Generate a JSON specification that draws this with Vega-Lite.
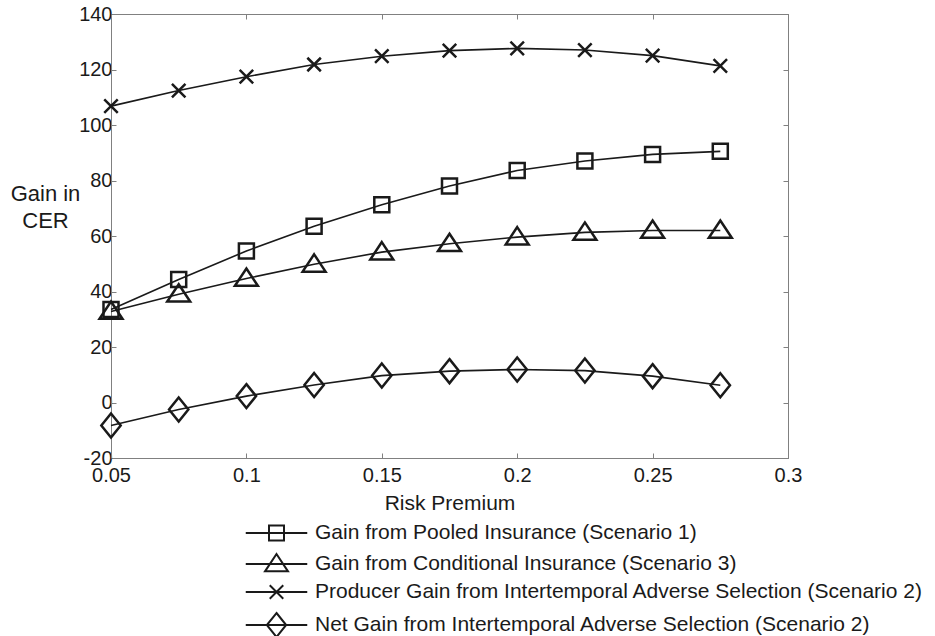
{
  "$schema": "https://vega.github.io/schema/vega-lite/v6.json",
  "autosize": "none",
  "width": 677,
  "height": 444,
  "padding": {"left": 111, "top": 14, "right": 147, "bottom": 178},
  "background": "white",
  "config": {
    "locale": {"number": {"decimal": ".", "thousands": ",", "grouping": [3], "currency": ["$", ""], "minus": "-"}},
    "view": {"stroke": "#808080", "strokeWidth": 1},
    "font": "Liberation Sans",
    "axis": {
      "domainColor": "#808080",
      "tickColor": "#808080",
      "labelColor": "#1a1a1a",
      "titleColor": "#1a1a1a",
      "labelFont": "Liberation Sans",
      "titleFont": "Liberation Sans",
      "grid": false
    }
  },
  "data": {
    "values": [
      {"x": 0.05, "y": 33.5, "s": "Gain from Pooled Insurance (Scenario 1)"},
      {"x": 0.075, "y": 44.3, "s": "Gain from Pooled Insurance (Scenario 1)"},
      {"x": 0.1, "y": 54.6, "s": "Gain from Pooled Insurance (Scenario 1)"},
      {"x": 0.125, "y": 63.5, "s": "Gain from Pooled Insurance (Scenario 1)"},
      {"x": 0.15, "y": 71.3, "s": "Gain from Pooled Insurance (Scenario 1)"},
      {"x": 0.175, "y": 78.0, "s": "Gain from Pooled Insurance (Scenario 1)"},
      {"x": 0.2, "y": 83.6, "s": "Gain from Pooled Insurance (Scenario 1)"},
      {"x": 0.225, "y": 87.0, "s": "Gain from Pooled Insurance (Scenario 1)"},
      {"x": 0.25, "y": 89.4, "s": "Gain from Pooled Insurance (Scenario 1)"},
      {"x": 0.275, "y": 90.5, "s": "Gain from Pooled Insurance (Scenario 1)"},
      {"x": 0.05, "y": 32.8, "s": "Gain from Conditional Insurance (Scenario 3)"},
      {"x": 0.075, "y": 39.0, "s": "Gain from Conditional Insurance (Scenario 3)"},
      {"x": 0.1, "y": 44.7, "s": "Gain from Conditional Insurance (Scenario 3)"},
      {"x": 0.125, "y": 49.8, "s": "Gain from Conditional Insurance (Scenario 3)"},
      {"x": 0.15, "y": 54.2, "s": "Gain from Conditional Insurance (Scenario 3)"},
      {"x": 0.175, "y": 57.2, "s": "Gain from Conditional Insurance (Scenario 3)"},
      {"x": 0.2, "y": 59.6, "s": "Gain from Conditional Insurance (Scenario 3)"},
      {"x": 0.225, "y": 61.3, "s": "Gain from Conditional Insurance (Scenario 3)"},
      {"x": 0.25, "y": 62.0, "s": "Gain from Conditional Insurance (Scenario 3)"},
      {"x": 0.275, "y": 62.0, "s": "Gain from Conditional Insurance (Scenario 3)"},
      {"x": 0.05, "y": 106.8, "s": "Producer Gain from Intertemporal Adverse Selection (Scenario 2)"},
      {"x": 0.075, "y": 112.4, "s": "Producer Gain from Intertemporal Adverse Selection (Scenario 2)"},
      {"x": 0.1, "y": 117.4, "s": "Producer Gain from Intertemporal Adverse Selection (Scenario 2)"},
      {"x": 0.125, "y": 121.8, "s": "Producer Gain from Intertemporal Adverse Selection (Scenario 2)"},
      {"x": 0.15, "y": 124.8, "s": "Producer Gain from Intertemporal Adverse Selection (Scenario 2)"},
      {"x": 0.175, "y": 126.8, "s": "Producer Gain from Intertemporal Adverse Selection (Scenario 2)"},
      {"x": 0.2, "y": 127.6, "s": "Producer Gain from Intertemporal Adverse Selection (Scenario 2)"},
      {"x": 0.225, "y": 127.0, "s": "Producer Gain from Intertemporal Adverse Selection (Scenario 2)"},
      {"x": 0.25, "y": 125.0, "s": "Producer Gain from Intertemporal Adverse Selection (Scenario 2)"},
      {"x": 0.275, "y": 121.3, "s": "Producer Gain from Intertemporal Adverse Selection (Scenario 2)"},
      {"x": 0.05, "y": -8.3, "s": "Net Gain from Intertemporal Adverse Selection (Scenario 2)"},
      {"x": 0.075, "y": -2.5, "s": "Net Gain from Intertemporal Adverse Selection (Scenario 2)"},
      {"x": 0.1, "y": 2.3, "s": "Net Gain from Intertemporal Adverse Selection (Scenario 2)"},
      {"x": 0.125, "y": 6.3, "s": "Net Gain from Intertemporal Adverse Selection (Scenario 2)"},
      {"x": 0.15, "y": 9.7, "s": "Net Gain from Intertemporal Adverse Selection (Scenario 2)"},
      {"x": 0.175, "y": 11.3, "s": "Net Gain from Intertemporal Adverse Selection (Scenario 2)"},
      {"x": 0.2, "y": 11.9, "s": "Net Gain from Intertemporal Adverse Selection (Scenario 2)"},
      {"x": 0.225, "y": 11.5, "s": "Net Gain from Intertemporal Adverse Selection (Scenario 2)"},
      {"x": 0.25, "y": 9.5, "s": "Net Gain from Intertemporal Adverse Selection (Scenario 2)"},
      {"x": 0.275, "y": 6.2, "s": "Net Gain from Intertemporal Adverse Selection (Scenario 2)"}
    ]
  },
  "resolve": {"axis": {"x": "independent", "y": "independent"}, "scale": {"shape": "independent"}},
  "layer": [
    {
      "mark": {"type": "line", "color": "#1a1a1a", "strokeWidth": 1.6},
      "encoding": {
        "x": {
          "field": "x", "type": "quantitative",
          "scale": {"domain": [0.05, 0.3], "nice": false, "zero": false},
          "axis": {
            "orient": "bottom",
            "values": [0.05, 0.1, 0.15, 0.2, 0.25, 0.3],
            "format": "~g",
            "labelFlush": false,
            "labelOverlap": false,
            "labelFontSize": 20,
            "labelPadding": 12,
            "tickSize": -5,
            "title": "Risk Premium",
            "titleFontSize": 21,
            "titleFontWeight": "normal",
            "titleBaseline": "alphabetic",
            "titleY": 51
          }
        },
        "y": {
          "field": "y", "type": "quantitative",
          "scale": {"domain": [-20, 140], "nice": false, "zero": false},
          "axis": {
            "orient": "left",
            "values": [-20, 0, 20, 40, 60, 80, 100, 120, 140],
            "format": "d",
            "labelFlush": false,
            "labelOverlap": false,
            "labelFontSize": 20,
            "labelPadding": 4,
            "tickSize": -5,
            "title": ["Gain in", "CER"],
            "titleAngle": 0,
            "titleAlign": "center",
            "titleBaseline": "alphabetic",
            "titleFontSize": 22,
            "titleFontWeight": "normal",
            "titleLineHeight": 27,
            "titleX": -66,
            "titleY": 186
          }
        },
        "detail": {"field": "s", "type": "nominal"}
      }
    },
    {
      "mark": {"type": "point", "filled": false, "color": "#1a1a1a", "strokeWidth": 2.5, "size": 225, "opacity": 1},
      "encoding": {
        "x": {"field": "x", "type": "quantitative", "axis": null},
        "y": {"field": "y", "type": "quantitative", "axis": null},
        "shape": {
          "field": "s", "type": "nominal",
          "scale": {
            "domain": [
              "Gain from Pooled Insurance (Scenario 1)",
              "Gain from Conditional Insurance (Scenario 3)",
              "Producer Gain from Intertemporal Adverse Selection (Scenario 2)",
              "Net Gain from Intertemporal Adverse Selection (Scenario 2)"
            ],
            "range": [
              "M-1,-1H1V1H-1Z",
              "M0,-1.33L1.53,0.98L-1.53,0.98Z",
              "M-0.9,-0.9L0.9,0.9M-0.9,0.9L0.9,-0.9",
              "M0,-1.6L1.29,0L0,1.6L-1.29,0Z"
            ]
          },
          "legend": null
        }
      }
    },
    {
      "transform": [{"filter": "false"}],
      "mark": {"type": "point", "filled": false, "color": "#1a1a1a", "strokeWidth": 2, "size": 225, "opacity": 1},
      "encoding": {
        "x": {"field": "x", "type": "quantitative", "axis": null},
        "y": {"field": "y", "type": "quantitative", "axis": null},
        "shape": {
          "field": "s", "type": "nominal",
          "scale": {
            "domain": [
              "Gain from Pooled Insurance (Scenario 1)",
              "Gain from Conditional Insurance (Scenario 3)",
              "Producer Gain from Intertemporal Adverse Selection (Scenario 2)",
              "Net Gain from Intertemporal Adverse Selection (Scenario 2)"
            ],
            "range": [
              "M-4.1,0H4.1M-1,-1H1V1H-1Z",
              "M-4.1,0H4.1M0,-1.33L1.53,0.98L-1.53,0.98Z",
              "M-4.1,0H4.1M-0.9,-0.9L0.9,0.9M-0.9,0.9L0.9,-0.9",
              "M-4.1,0H4.1M0,-1.6L1.29,0L0,1.6L-1.29,0Z"
            ]
          },
          "legend": {
            "orient": "none",
            "legendX": 155,
            "legendY": 508.5,
            "padding": 0,
            "title": null,
            "symbolSize": 225,
            "symbolStrokeWidth": 2,
            "symbolStrokeColor": "#1a1a1a",
            "symbolOpacity": 1,
            "labelFontSize": 21,
            "labelColor": "#1a1a1a",
            "labelFont": "Liberation Sans",
            "labelOffset": 28,
            "labelLimit": 0,
            "rowPadding": 5
          }
        }
      }
    },
    {
      "mark": {"type": "point", "opacity": 0},
      "encoding": {
        "x": {
          "field": "x", "type": "quantitative",
          "axis": {"orient": "top", "values": [0.05, 0.1, 0.15, 0.2, 0.25, 0.3], "labels": false, "tickSize": -5, "title": null}
        },
        "y": {
          "field": "y", "type": "quantitative",
          "axis": {"orient": "right", "values": [-20, 0, 20, 40, 60, 80, 100, 120, 140], "labels": false, "tickSize": -5, "title": null}
        }
      }
    }
  ]
}
